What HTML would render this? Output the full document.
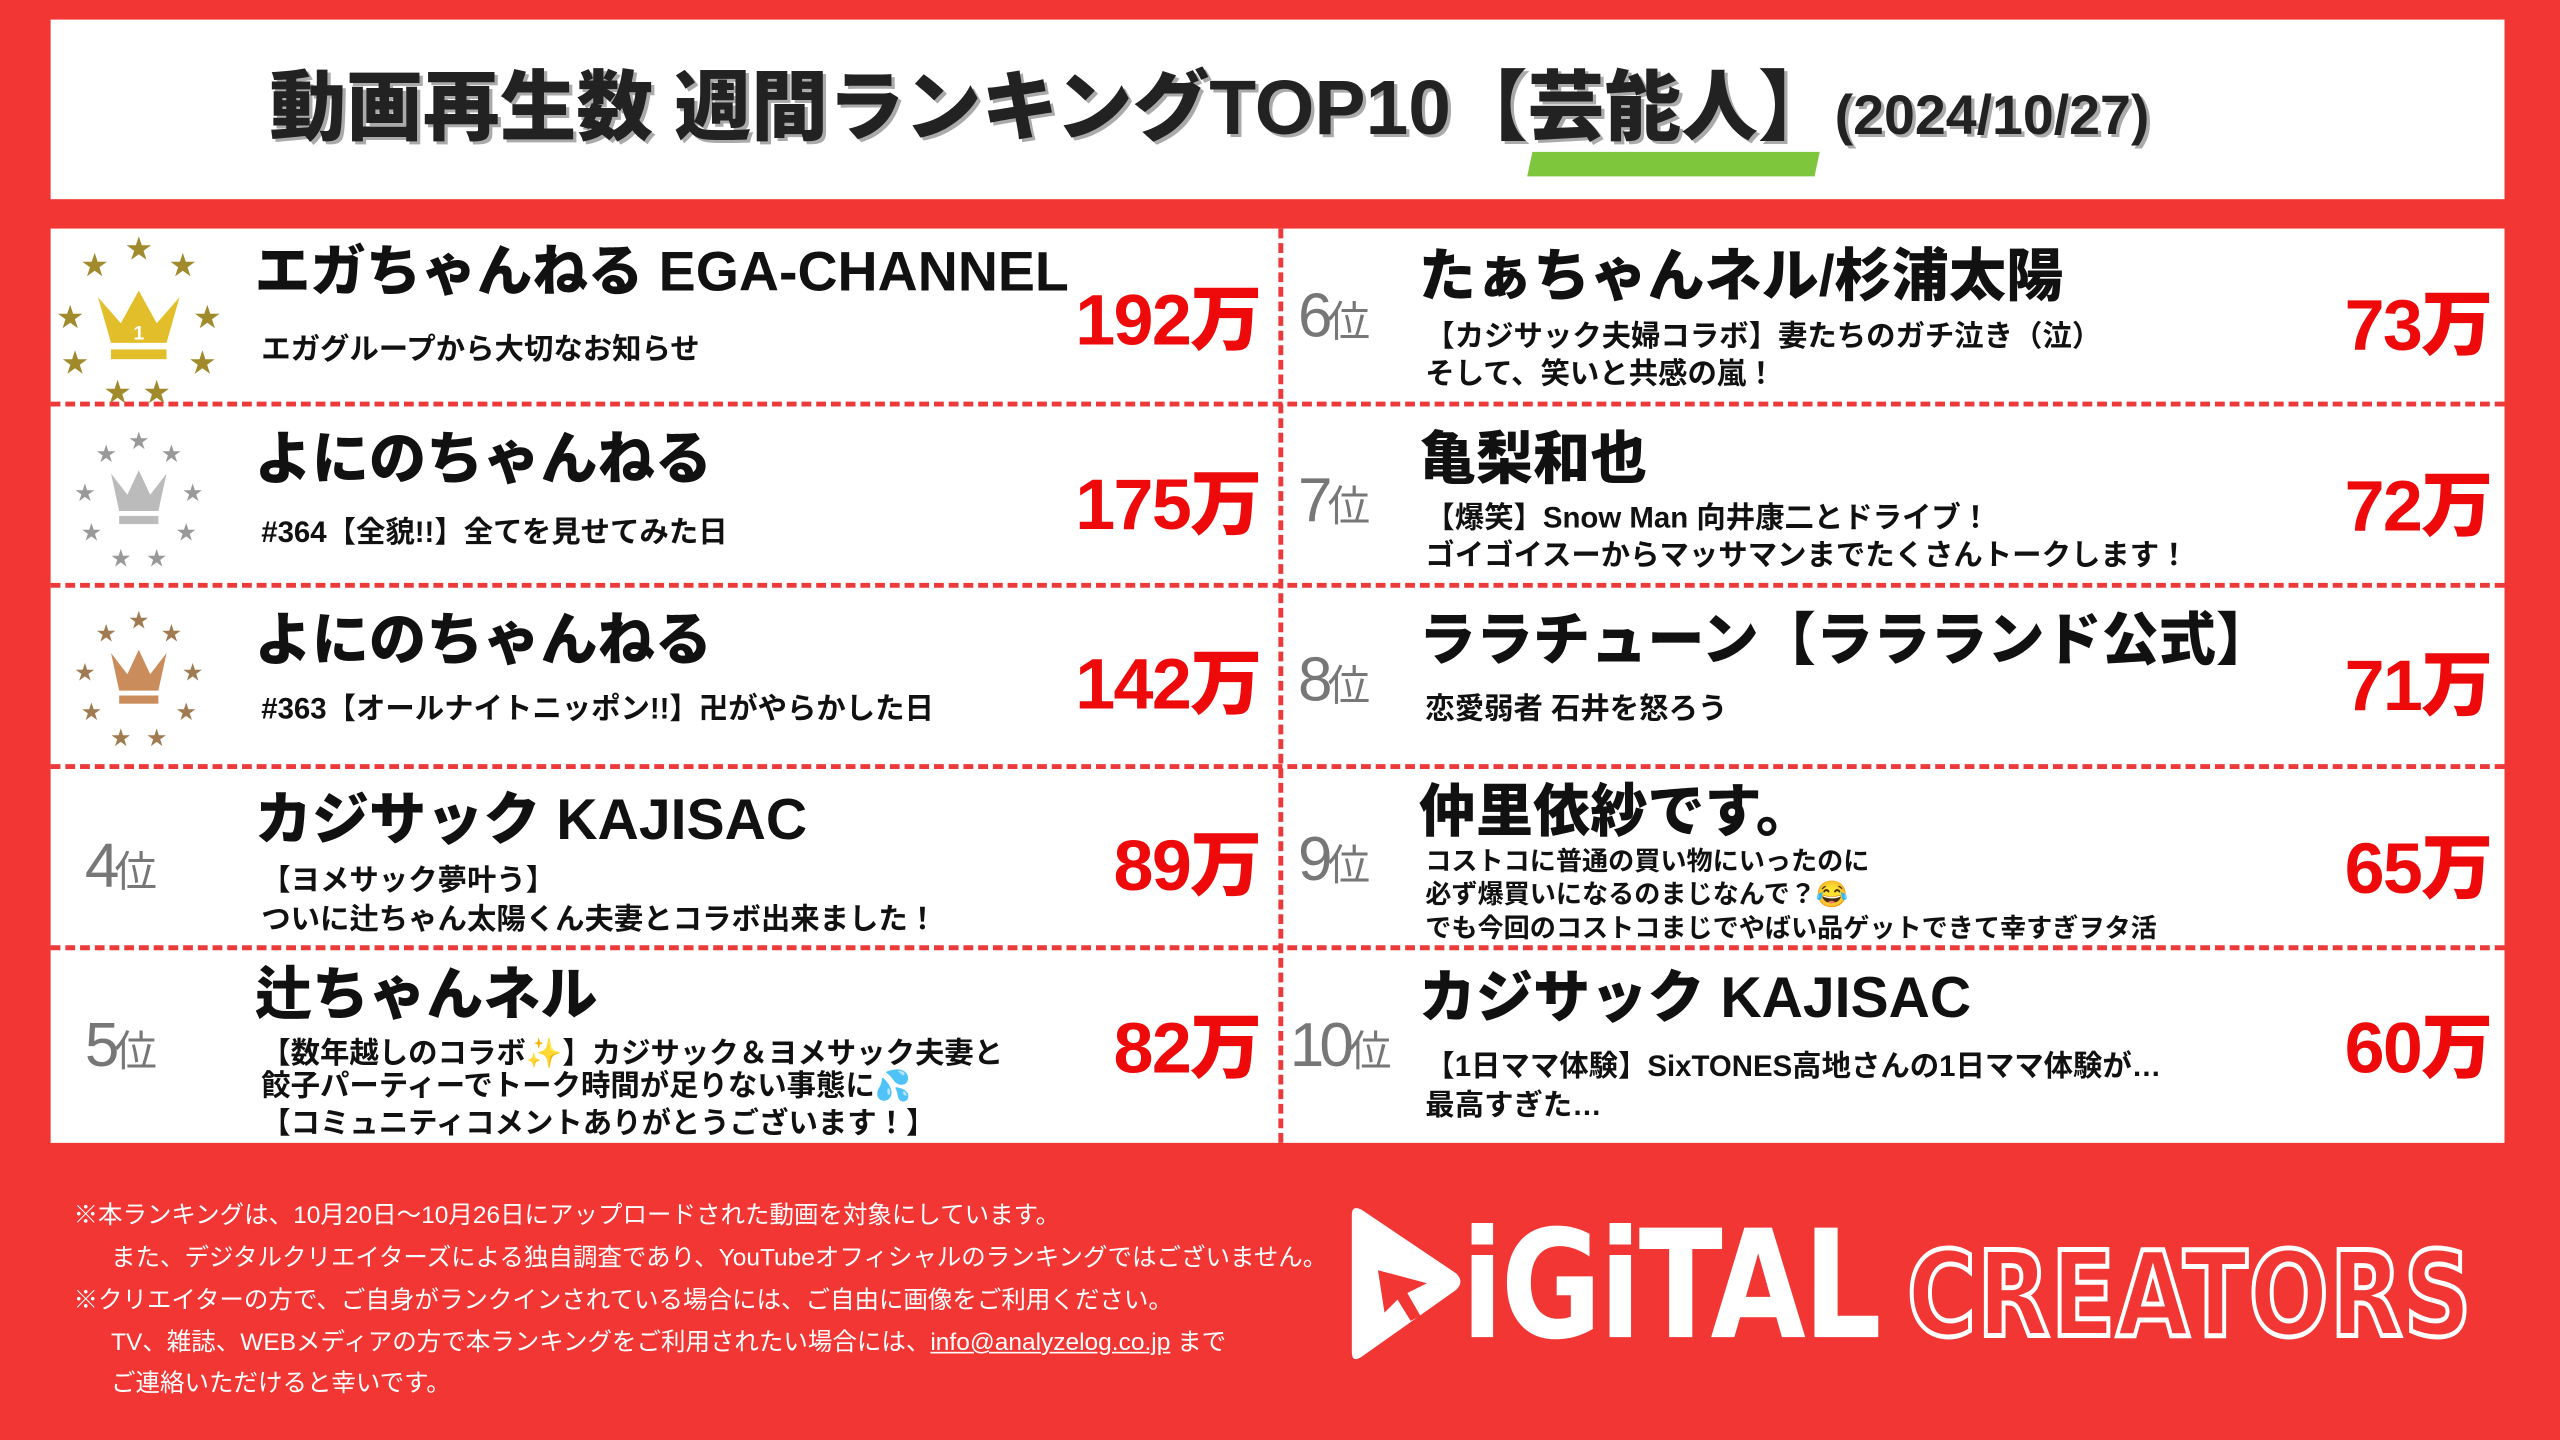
<!DOCTYPE html>
<html><head><meta charset="utf-8">
<style>
html,body{margin:0;padding:0;background:#f13634;overflow:hidden}
body{width:2560px;height:1440px;position:relative}
#s{position:absolute;left:0;top:0;width:1568px;height:882px;transform:scale(1.632653);transform-origin:0 0;font-family:"Liberation Sans","Noto Sans CJK JP",sans-serif;font-weight:bold;color:#111}
.a{position:absolute;white-space:nowrap;line-height:1}
.t{font-size:35px;font-weight:900}
.sb{font-size:18px}
.n{font-size:44px;color:#ee0a0a;font-weight:900;text-align:right;letter-spacing:-1px}
.r{font-size:38px;color:#777;font-weight:normal;letter-spacing:-3px}
.r small{font-size:26px}
.hd{position:absolute;left:31px;height:0;border-top:3px dashed #ec3a3a}
.ft{position:absolute;color:#fff;font-size:15px;font-weight:normal;white-space:nowrap}
</style></head><body><div id="s">
<div class="a" style="left:31px;top:12px;width:1503px;height:110px;background:#fff"></div>
<div class="a" style="left:937px;top:93px;width:176px;height:15px;background:#7ec63c;transform:skewX(-12deg)"></div>
<div class="a" style="left:165px;top:42px;font-size:47px;font-weight:900;color:#222;text-shadow:2px 2px 0 #aaa">動画再生数 週間ランキングTOP10【芸能人】<span style="font-size:34px">(2024/10/27)</span></div>

<div class="a" style="left:31px;top:140px;width:1503px;height:560px;background:#fff"></div>
<div class="hd" style="top:246px;width:1503px"></div>
<div class="hd" style="top:357px;width:1503px"></div>
<div class="hd" style="top:468px;width:1503px"></div>
<div class="hd" style="top:579px;width:1503px"></div>
<div class="a" style="left:783px;top:140px;width:0;height:560px;border-left:3px dashed #ec3a3a"></div>

<svg class="a" style="left:30px;top:142px" width="110" height="105" viewBox="0 0 110 105">
<g fill="#a08a2c" font-size="16" text-anchor="middle"><text x="55" y="16">★</text><text x="28" y="26">★</text><text x="82" y="26">★</text><text x="13" y="58">★</text><text x="97" y="58">★</text><text x="16" y="86">★</text><text x="94" y="86">★</text><text x="42" y="104">★</text><text x="66" y="104">★</text></g>
<path d="M30 40 L38 68 H72 L80 40 L66 56 L55 36 L44 56 Z" fill="#e2bf2a"/><rect x="38" y="72" width="34" height="6" fill="#e2bf2a"/>
<text x="55" y="66" fill="#fff" font-size="12" text-anchor="middle">1</text></svg>
<svg class="a" style="left:30px;top:258px" width="110" height="95" viewBox="0 0 110 95">
<g fill="#999" font-size="12" text-anchor="middle"><text x="55" y="16">★</text><text x="35" y="24">★</text><text x="75" y="24">★</text><text x="22" y="48">★</text><text x="88" y="48">★</text><text x="26" y="72">★</text><text x="84" y="72">★</text><text x="44" y="88">★</text><text x="66" y="88">★</text></g>
<path d="M38 32 L43 55 H67 L72 32 L62 45 L55 30 L48 45 Z" fill="#bbb"/><rect x="43" y="58" width="24" height="5" fill="#bbb"/></svg>
<svg class="a" style="left:30px;top:368px" width="110" height="95" viewBox="0 0 110 95">
<g fill="#a07a50" font-size="12" text-anchor="middle"><text x="55" y="16">★</text><text x="35" y="24">★</text><text x="75" y="24">★</text><text x="22" y="48">★</text><text x="88" y="48">★</text><text x="26" y="72">★</text><text x="84" y="72">★</text><text x="44" y="88">★</text><text x="66" y="88">★</text></g>
<path d="M38 32 L43 55 H67 L72 32 L62 45 L55 30 L48 45 Z" fill="#c98c5a"/><rect x="43" y="58" width="24" height="5" fill="#c98c5a"/></svg>

<div class="a r" style="left:52px;top:512px">4<small>位</small></div>
<div class="a r" style="left:52px;top:622px">5<small>位</small></div>
<div class="a r" style="left:795px;top:175px">6<small>位</small></div>
<div class="a r" style="left:795px;top:288px">7<small>位</small></div>
<div class="a r" style="left:795px;top:398px">8<small>位</small></div>
<div class="a r" style="left:795px;top:508px">9<small>位</small></div>
<div class="a r" style="left:790px;top:622px">10<small>位</small></div>

<div class="a t" style="left:156px;top:150px;font-size:34px">エガちゃんねる EGA-CHANNEL</div>
<div class="a sb" style="left:160px;top:205px">エガグループから大切なお知らせ</div>
<div class="a n" style="right:796px;top:175px">192万</div>

<div class="a t" style="left:156px;top:264px">よにのちゃんねる</div>
<div class="a sb" style="left:160px;top:317px">#364【全貌!!】全てを見せてみた日</div>
<div class="a n" style="right:796px;top:288px">175万</div>

<div class="a t" style="left:156px;top:375px">よにのちゃんねる</div>
<div class="a sb" style="left:160px;top:425px">#363【オールナイトニッポン!!】卍がやらかした日</div>
<div class="a n" style="right:796px;top:398px">142万</div>

<div class="a t" style="left:156px;top:485px">カジサック KAJISAC</div>
<div class="a sb" style="left:160px;top:530px">【ヨメサック夢叶う】</div>
<div class="a sb" style="left:160px;top:554px">ついに辻ちゃん太陽くん夫妻とコラボ出来ました！</div>
<div class="a n" style="right:796px;top:509px">89万</div>

<div class="a t" style="left:156px;top:592px">辻ちゃんネル</div>
<div class="a sb" style="left:160px;top:636px">【数年越しのコラボ✨】カジサック＆ヨメサック夫妻と</div>
<div class="a sb" style="left:160px;top:656px">餃子パーティーでトーク時間が足りない事態に💦</div>
<div class="a sb" style="left:160px;top:679px">【コミュニティコメントありがとうございます！】</div>
<div class="a n" style="right:796px;top:621px">82万</div>

<div class="a t" style="left:869px;top:152px">たぁちゃんネル/杉浦太陽</div>
<div class="a sb" style="left:873px;top:197px">【カジサック夫婦コラボ】妻たちのガチ泣き（泣）</div>
<div class="a sb" style="left:873px;top:220px">そして、笑いと共感の嵐！</div>
<div class="a n" style="right:42px;top:178px">73万</div>

<div class="a t" style="left:869px;top:264px">亀梨和也</div>
<div class="a sb" style="left:873px;top:308px">【爆笑】Snow Man 向井康二とドライブ！</div>
<div class="a sb" style="left:873px;top:331px">ゴイゴイスーからマッサマンまでたくさんトークします！</div>
<div class="a n" style="right:42px;top:289px">72万</div>

<div class="a t" style="left:869px;top:375px">ララチューン【ララランド公式】</div>
<div class="a sb" style="left:873px;top:425px">恋愛弱者 石井を怒ろう</div>
<div class="a n" style="right:42px;top:399px">71万</div>

<div class="a t" style="left:869px;top:480px">仲里依紗です。</div>
<div class="a sb" style="left:873px;top:521px;font-size:16px">コストコに普通の買い物にいったのに</div>
<div class="a sb" style="left:873px;top:541px;font-size:16px">必ず爆買いになるのまじなんで？😂</div>
<div class="a sb" style="left:873px;top:562px;font-size:16px">でも今回のコストコまじでやばい品ゲットできて幸すぎヲタ活</div>
<div class="a n" style="right:42px;top:511px">65万</div>

<div class="a t" style="left:869px;top:594px">カジサック KAJISAC</div>
<div class="a sb" style="left:873px;top:644px">【1日ママ体験】SixTONES高地さんの1日ママ体験が…</div>
<div class="a sb" style="left:873px;top:668px">最高すぎた…</div>
<div class="a n" style="right:42px;top:621px">60万</div>

<div class="ft" style="left:45px;top:733px">※本ランキングは、10月20日～10月26日にアップロードされた動画を対象にしています。</div>
<div class="ft" style="left:68px;top:759px">また、デジタルクリエイターズによる独自調査であり、YouTubeオフィシャルのランキングではございません。</div>
<div class="ft" style="left:45px;top:785px">※クリエイターの方で、ご自身がランクインされている場合には、ご自由に画像をご利用ください。</div>
<div class="ft" style="left:68px;top:811px">TV、雑誌、WEBメディアの方で本ランキングをご利用されたい場合には、<u>info@analyzelog.co.jp</u> まで</div>
<div class="ft" style="left:68px;top:836px">ご連絡いただけると幸いです。</div>

<svg class="a" style="left:822px;top:738px" width="75" height="98" viewBox="0 0 75 98">
<path d="M6 6 Q6 0 12 3 L70 42 Q75 47 70 52 L12 93 Q6 97 6 90 Z" fill="#fff"/>
<path d="M22 40 L52 48 L40 54 L48 68 L42 71 L34 58 L26 66 Z" fill="#f13634"/></svg>
<div class="a" style="left:895px;top:742px;font-size:92px;font-weight:900;color:#fff;letter-spacing:-2px;font-family:'DejaVu Sans','Liberation Sans',sans-serif;transform:scaleX(0.82);transform-origin:0 0">iGiTAL</div>
<div class="a" style="left:1168px;top:757px;font-size:72px;font-weight:900;color:transparent;-webkit-text-stroke:3px #fff;letter-spacing:1px;font-family:'DejaVu Sans','Liberation Sans',sans-serif;transform:scaleX(0.8);transform-origin:0 0">CREATORS</div>
</div></body></html>
